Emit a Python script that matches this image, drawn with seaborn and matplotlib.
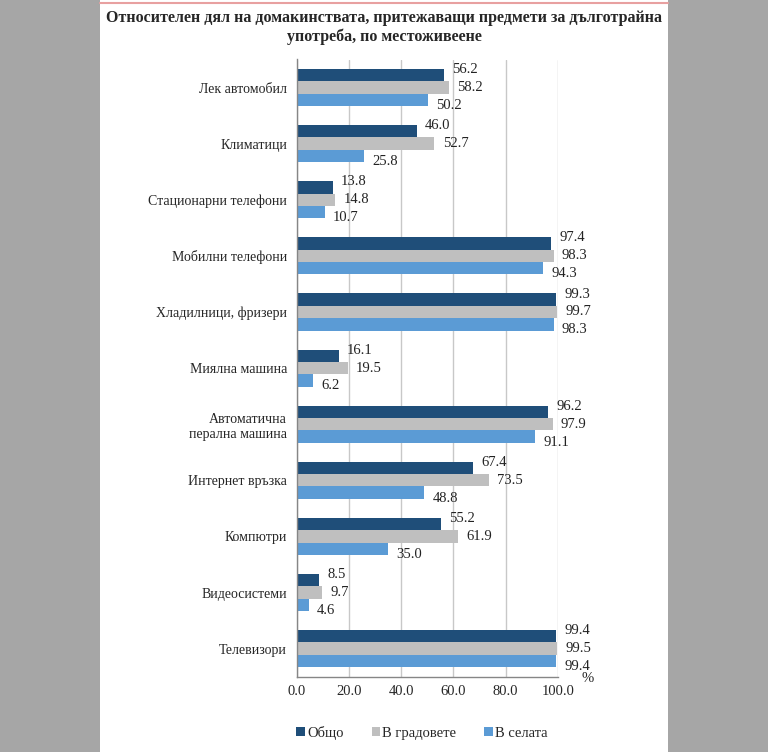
import matplotlib
matplotlib.use('Agg')
import matplotlib.pyplot as plt
import matplotlib.patches as mpatches
from matplotlib.lines import Line2D
from matplotlib.ticker import FormatStrFormatter
import seaborn as sns
import pandas as pd

sns.set_style('white')
plt.rcParams['font.family'] = ['Liberation Serif', 'DejaVu Serif']

# data
categories = ['Лек автомобил', 'Климатици', 'Стационарни телефони', 'Мобилни телефони',
              'Хладилници, фризери', 'Миялна машина', 'Автоматична\nперална машина',
              'Интернет връзка', 'Компютри', 'Видеосистеми', 'Телевизори']
series = ['Общо', 'В градовете', 'В селата']
total = [56.2, 46.0, 13.8, 97.4, 99.3, 16.1, 96.2, 67.4, 55.2, 8.5, 99.4]
cities = [58.2, 52.7, 14.8, 98.3, 99.7, 19.5, 97.9, 73.5, 61.9, 9.7, 99.5]
villages = [50.2, 25.8, 10.7, 94.3, 98.3, 6.2, 91.1, 48.8, 35.0, 4.6, 99.4]
colors = ['#1f4e79', '#bfbfbf', '#5b9bd5']

df = pd.DataFrame({
    'cat': categories * 3,
    'series': [series[0]] * 11 + [series[1]] * 11 + [series[2]] * 11,
    'value': total + cities + villages,
})

fig = plt.figure(figsize=(7.68, 7.52), dpi=100, facecolor='#a6a6a6')
# white page in the middle of the gray screenshot
fig.patches.append(mpatches.Rectangle((100 / 768, 0), 568 / 768, 1, transform=fig.transFigure,
                                      facecolor='white', edgecolor='none', zorder=-5))
fig.lines.append(Line2D([100 / 768, 668 / 768], [1 - 3 / 752] * 2, transform=fig.transFigure,
                        color='#e8a0a0', lw=1.5, zorder=-4))

ax = fig.add_axes([296.7 / 768, 1 - 676.7 / 752, 261.3 / 768, 617.2 / 752])
ax.set_facecolor('none')
sns.barplot(data=df, y='cat', x='value', hue='series', palette=colors, orient='h',
            width=0.66, saturation=1, linewidth=0, ax=ax, legend=True)

# labels spread a little vertically, like excel does
shifts = [4, 0, -4]
for cont, dy in zip(ax.containers, shifts):
    anns = ax.bar_label(cont, fmt='%.1f', padding=6, fontsize=10.5, color='#222222')
    for a in anns:
        a.xyann = (6, dy)

ax.set_xlim(0, 100)
ax.set_ylim(10.5, -0.5)
ax.set_xticks([0, 20, 40, 60, 80, 100])
ax.xaxis.set_major_formatter(FormatStrFormatter('%.1f'))
ax.xaxis.grid(True, color='#c8c8c8', lw=1)
ax.set_axisbelow(True)
ax.set_yticks([i - 0.5 for i in range(12)], minor=True)
ax.tick_params(axis='y', which='major', length=0, labelsize=10, pad=7)
ax.tick_params(axis='y', which='minor', length=4, color='#868686', direction='out')
ax.tick_params(axis='x', length=4, color='#868686', labelsize=10.5, pad=2)
ax.set_xlabel('')
ax.set_ylabel('')
for s in ['top', 'right']:
    ax.spines[s].set_visible(False)
for s in ['left', 'bottom']:
    ax.spines[s].set_color('#868686')
    ax.spines[s].set_linewidth(1)

ax.legend(loc='center', bbox_to_anchor=(422 / 768, 19 / 752), bbox_transform=fig.transFigure,
          ncol=3, frameon=False, fontsize=10.5, handlelength=0.6, handleheight=0.6,
          handletextpad=0.15, columnspacing=1.9)

fig.text(588 / 768, 1 - 679 / 752, '%', ha='center', va='center', fontsize=10.5)
fig.text(0.5, 1 - 27.5 / 752,
         'Относителен дял на домакинствата, притежаващи предмети за дълготрайна\nупотреба, по местоживеене',
         ha='center', va='center', fontsize=11.5, fontweight='bold', linespacing=1.25)

fig.savefig('out.png', dpi=100, facecolor=fig.get_facecolor())
